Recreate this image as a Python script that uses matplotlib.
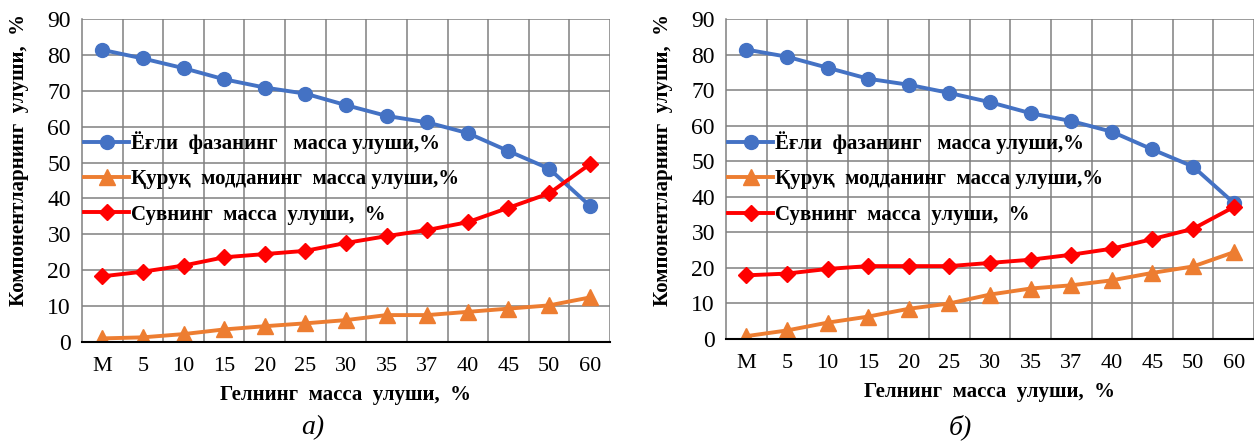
import numpy as np
import matplotlib
matplotlib.use("Agg")
import matplotlib.pyplot as plt
from matplotlib.ticker import FixedLocator

plt.rcParams['font.family'] = ['Liberation Serif', 'DejaVu Serif']

# Data / маълумотлар
categories = ['M', '5', '10', '15', '20', '25', '30', '35', '37', '40', '45', '50', '60']

oil_a = [81.4, 79.0, 76.3, 73.2, 70.9, 69.2, 66.0, 63.0, 61.2, 58.2, 53.2, 48.3, 38.0]
dry_a = [1.0, 1.3, 2.2, 3.5, 4.4, 5.2, 6.1, 7.5, 7.5, 8.4, 9.3, 10.2, 12.4]
water_a = [18.3, 19.6, 21.3, 23.6, 24.5, 25.4, 27.6, 29.5, 31.2, 33.4, 37.4, 41.4, 49.5]

oil_b = [81.4, 79.4, 76.3, 73.2, 71.5, 69.2, 66.6, 63.5, 61.3, 58.3, 53.3, 48.5, 38.3]
dry_b = [0.8, 2.4, 4.6, 6.3, 8.5, 10.0, 12.5, 14.2, 15.1, 16.5, 18.6, 20.4, 24.4]
water_b = [17.9, 18.4, 19.7, 20.5, 20.5, 20.5, 21.4, 22.3, 23.7, 25.4, 28.1, 31.0, 37.1]

labels = ['Ёғли  фазанинг   масса улуши,%',
          'Қуруқ  модданинг  масса улуши,%',
          'Сувнинг  масса  улуши,  %']
yticks = list(range(0, 91, 10))

BLUE = '#4472C4'
ORANGE = '#ED7D31'
RED = '#FF0000'
GRID = '#808080'

fig = plt.figure(figsize=(12.54, 4.42), dpi=100)


def draw_panel(rect, oil, dry, water, leg_y, caption, cap_x):
    ax = fig.add_axes(rect)
    x = np.arange(len(categories))
    ax.plot(x, oil, color=BLUE, lw=2.8, marker='o', ms=10, label=labels[0])
    ax.plot(x, dry, color=ORANGE, lw=2.8, marker='^', ms=11, label=labels[1])
    ax.plot(x, water, color=RED, lw=2.8, marker='D', ms=8.5, label=labels[2])

    ax.set_xlim(-0.5, len(categories) - 0.5)
    ax.set_ylim(0, 90)
    ax.set_yticks(yticks)
    ax.set_xticks(x)
    ax.set_xticklabels(categories)
    # vertical grid between the categories, Excel style
    ax.xaxis.set_minor_locator(FixedLocator(np.arange(0.5, len(categories), 1)))
    ax.grid(axis='x', which='minor', color=GRID, lw=1.1)
    ax.grid(axis='y', which='major', color=GRID, lw=1.1)
    ax.set_axisbelow(True)
    ax.tick_params(which='both', length=0)
    ax.tick_params(axis='y', labelsize=17, pad=8)
    ax.tick_params(axis='x', labelsize=16, pad=11)

    for s in ['top', 'right']:
        ax.spines[s].set_visible(False)
    ax.spines['left'].set_color(GRID)
    ax.spines['left'].set_linewidth(1.1)
    ax.spines['bottom'].set_color('black')
    ax.spines['bottom'].set_linewidth(1.5)

    ax.legend(loc='center left', bbox_to_anchor=(0.004, leg_y), frameon=False,
              borderpad=0, borderaxespad=0, handlelength=2.15, handletextpad=0.1,
              labelspacing=0.74, prop={'size': 15, 'weight': 'bold'})

    ax.set_xlabel('Гелнинг  масса  улуши,  %', fontsize=15, fontweight='bold',
                  labelpad=6)
    fig.text(cap_x, 0.033, caption, fontsize=20, style='italic',
             ha='center', va='center')
    return ax


ax1 = draw_panel([82 / 1254, 1 - 342 / 442, 528 / 1254, 323 / 442],
                 oil_a, dry_a, water_a, 0.508, 'а)', 313 / 1254)
ax2 = draw_panel([726 / 1254, 1 - 339 / 442, 528 / 1254, 320 / 442],
                 oil_b, dry_b, water_b, 0.503, 'б)', 960 / 1254)

ylab = 'Компонентларнинг  улуши,  %'
fig.text(19 / 1254, 1 - 160 / 442, ylab, rotation=90, fontsize=15,
         fontweight='bold', ha='center', va='center')
fig.text(663 / 1254, 1 - 160 / 442, ylab, rotation=90, fontsize=15,
         fontweight='bold', ha='center', va='center')

fig.savefig('out.png', dpi=100)
